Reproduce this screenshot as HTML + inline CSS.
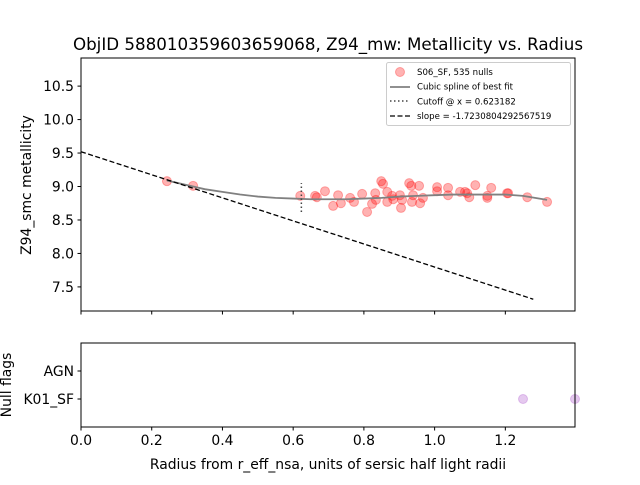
<!DOCTYPE html>
<html><head><meta charset="utf-8"><style>
body{margin:0;background:#fff;font-family:"Liberation Sans","DejaVu Sans",sans-serif}
svg text{font-family:"DejaVu Sans","Liberation Sans",sans-serif}
</style></head><body>
<svg id="c" width="640" height="480" xmlns="http://www.w3.org/2000/svg"></svg>
<script>
const xs=[0.243,0.317,0.620,0.662,0.667,0.690,0.713,0.727,0.735,0.761,0.772,0.795,0.809,0.823,0.832,0.834,0.849,0.854,0.866,0.866,0.880,0.883,0.902,0.905,0.908,0.928,0.934,0.939,0.936,0.956,0.959,0.967,1.007,1.007,1.038,1.038,1.072,1.086,1.092,1.098,1.115,1.149,1.149,1.160,1.205,1.208,1.262,1.318];
const ys=[9.08,9.01,8.86,8.86,8.84,8.93,8.71,8.87,8.75,8.83,8.77,8.89,8.62,8.74,8.90,8.80,9.08,9.04,8.92,8.77,8.86,8.81,8.87,8.68,8.80,9.05,9.01,8.87,8.77,9.01,8.75,8.83,8.99,8.93,8.98,8.87,8.92,8.92,8.90,8.84,9.02,8.86,8.83,8.98,8.90,8.90,8.84,8.77];
const splineX=[0.243,0.3,0.35,0.4,0.45,0.5,0.55,0.6,0.65,0.7,0.75,0.8,0.85,0.9,0.95,1.0,1.05,1.1,1.15,1.2,1.25,1.318];
const splineY=[9.09,9.02,8.96,8.92,8.88,8.85,8.83,8.82,8.81,8.81,8.81,8.82,8.83,8.85,8.86,8.87,8.88,8.88,8.88,8.88,8.86,8.80];
const slope=-1.7230804292567519, intercept=9.52, slopeXEnd=1.279;
const cutoff=0.623182, cutoffY=[8.62,9.05];
const nullX=[1.25,1.397], nullCat=[1,1];
const xTicks=[0,0.2,0.4,0.6,0.8,1.0,1.2];
const yTicks=[7.5,8.0,8.5,9.0,9.5,10.0,10.5];
const catLabels=["K01_SF","AGN"];

const svg=document.getElementById('c');const NS="http://www.w3.org/2000/svg";
function mk(t,a,p){const e=document.createElementNS(NS,t);for(const k in a)e.setAttribute(k,a[k]);(p||svg).appendChild(e);return e;}
const L=81,R=575,T1=58,B1=311,T2=343,B2=427;
const X=v=>L+(v-0)/(1.397)*(R-L);
const Y=v=>T1+(10.92-v)/(10.92-7.14)*(B1-T1);
const Y2=v=>B2-(v-0)/3*(B2-T2);
const FS=13.9;

let t=mk('text',{x:328,y:50,'text-anchor':'middle','font-size':16.7});t.textContent="ObjID 588010359603659068, Z94_mw: Metallicity vs. Radius";


const g1=mk('g',{});
xs.forEach((x,i)=>{const c=mk('circle',{cx:X(x),cy:Y(ys[i]),r:4.5,fill:'rgba(255,0,0,0.3)',stroke:'rgba(255,0,0,0.3)','stroke-width':1},g1);
});
let d=splineX.map((x,i)=>(i?'L':'M')+X(x)+','+Y(splineY[i])).join('');
let p=mk('path',{d:d,fill:'none',stroke:'#808080','stroke-width':1.8},g1);
p=mk('line',{x1:X(0),y1:Y(intercept),x2:X(slopeXEnd),y2:Y(intercept+slope*slopeXEnd),stroke:'#000','stroke-width':1.3,'stroke-dasharray':'5,2.5'},g1);

p=mk('line',{x1:X(cutoff),y1:Y(cutoffY[0]),x2:X(cutoff),y2:Y(cutoffY[1]),stroke:'#444','stroke-width':1.5,'stroke-dasharray':'1.5,2.5'},g1);

mk('rect',{x:L,y:T1,width:R-L,height:B1-T1,fill:'none',stroke:'#000','stroke-width':1},g1);
yTicks.forEach(v=>{mk('line',{x1:L-3.5,x2:L,y1:Y(v),y2:Y(v),stroke:'#000'},g1);
const tt=mk('text',{x:L-7,y:Y(v)+5,'text-anchor':'end','font-size':FS},g1);tt.textContent=v.toFixed(1);
});
xTicks.forEach(v=>mk('line',{x1:X(v),x2:X(v),y1:B1,y2:B1+3.5,stroke:'#000'},g1));
t=mk('text',{transform:'translate(31,185) rotate(-90)','text-anchor':'middle','font-size':FS});t.textContent="Z94_smc metallicity";


const lg=mk('g',{});
mk('rect',{x:386.5,y:62.5,width:184,height:63,rx:2,fill:'#fff',stroke:'#ccc'},lg);
mk('circle',{cx:400,cy:72,r:4.5,fill:'rgba(255,0,0,0.3)',stroke:'rgba(255,0,0,0.3)'},lg);
mk('line',{x1:390,x2:410,y1:87,y2:87,stroke:'#808080','stroke-width':1.8},lg);
mk('line',{x1:390,x2:410,y1:101,y2:101,stroke:'#444','stroke-width':1.5,'stroke-dasharray':'1.5,2.5'},lg);
mk('line',{x1:390,x2:410,y1:116,y2:116,stroke:'#000','stroke-width':1.3,'stroke-dasharray':'5,2.5'},lg);
["S06_SF, 535 nulls","Cubic spline of best fit","Cutoff @ x = 0.623182","slope = -1.7230804292567519"].forEach((s,i)=>{
const tt=mk('text',{x:417,y:75+i*14.7,'font-size':8.6},lg);tt.textContent=s;});

const g2=mk('g',{});
nullX.forEach((x,i)=>{const c=mk('circle',{cx:X(x),cy:Y2(nullCat[i]),r:4.5,fill:'rgba(150,40,190,0.25)',stroke:'rgba(150,40,190,0.25)'},g2);
});
mk('rect',{x:L,y:T2,width:R-L,height:B2-T2,fill:'none',stroke:'#000'},g2);
catLabels.forEach((s,i)=>{const y=Y2(i+1);mk('line',{x1:L-3.5,x2:L,y1:y,y2:y,stroke:'#000'},g2);
const tt=mk('text',{x:L-7,y:y+5,'text-anchor':'end','font-size':FS},g2);tt.textContent=s;});
xTicks.forEach(v=>{mk('line',{x1:X(v),x2:X(v),y1:B2,y2:B2+3.5,stroke:'#000'},g2);
const tt=mk('text',{x:X(v),y:B2+18,'text-anchor':'middle','font-size':FS},g2);tt.textContent=v.toFixed(1);
});
t=mk('text',{transform:'translate(11,385) rotate(-90)','text-anchor':'middle','font-size':FS});t.textContent="Null flags";

t=mk('text',{x:328,y:469,'text-anchor':'middle','font-size':FS});t.textContent="Radius from r_eff_nsa, units of sersic half light radii";

</script>
</body></html>
